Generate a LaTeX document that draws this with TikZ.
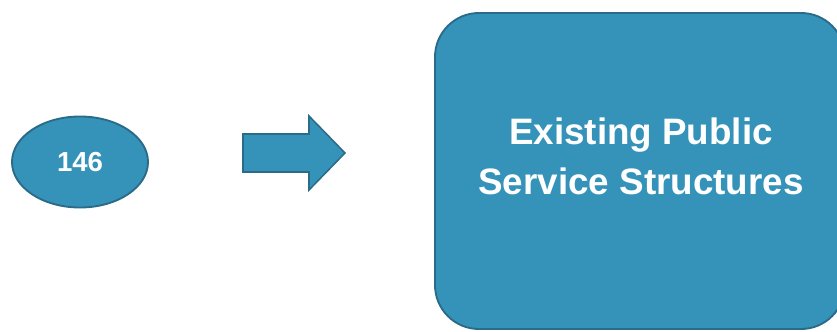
\documentclass[tikz,border=0pt]{standalone}
\usepackage{fontspec}
\setmainfont{Liberation Sans}
\usetikzlibrary{shapes.geometric}

\definecolor{boxfill}{HTML}{3593BA}
\definecolor{boxline}{HTML}{2A6B89}

\tikzset{
  shapebase/.style={fill=boxfill, draw=boxline, line width=1.6pt},
  countnode/.style={shapebase, ellipse, inner sep=0pt,
    minimum width=4.08cm, minimum height=2.73cm,
    text=white, font=\fontsize{23.5}{28}\bfseries\selectfont},
  bigbox/.style={shapebase, rectangle, rounded corners=1.32cm,
    minimum width=12.3cm, minimum height=9.48cm},
  boxtext/.style={text=white, align=center,
    font=\fontsize{31.4}{42.5}\bfseries\selectfont},
}

\begin{document}
\begin{tikzpicture}[x=0.03cm,y=-0.03cm]

		% page frame (pixels of the reference)
		\useasboundingbox (0,0) rectangle (837,331);
		\clip (0,0) rectangle (837,331);

		% left ellipse
		\node[countnode] (count) at (80,162) {146};

		% block arrow
		\coordinate (arrowtail) at (243,153);
		\draw[shapebase, line width=1.3pt] (arrowtail) ++(0,-19) -- ++(66,0) -- ++(0,-18)
		      -- ++(36,37) -- ++(-36,37) -- ++(0,-18) -- ++(-66,0) -- cycle;

		% big rounded box
		\node[bigbox] (structures) at (640,171) {};
		\node[boxtext] (structlabel) at (641,156) {Existing Public\\Service Structures};

\end{tikzpicture}
\end{document}
